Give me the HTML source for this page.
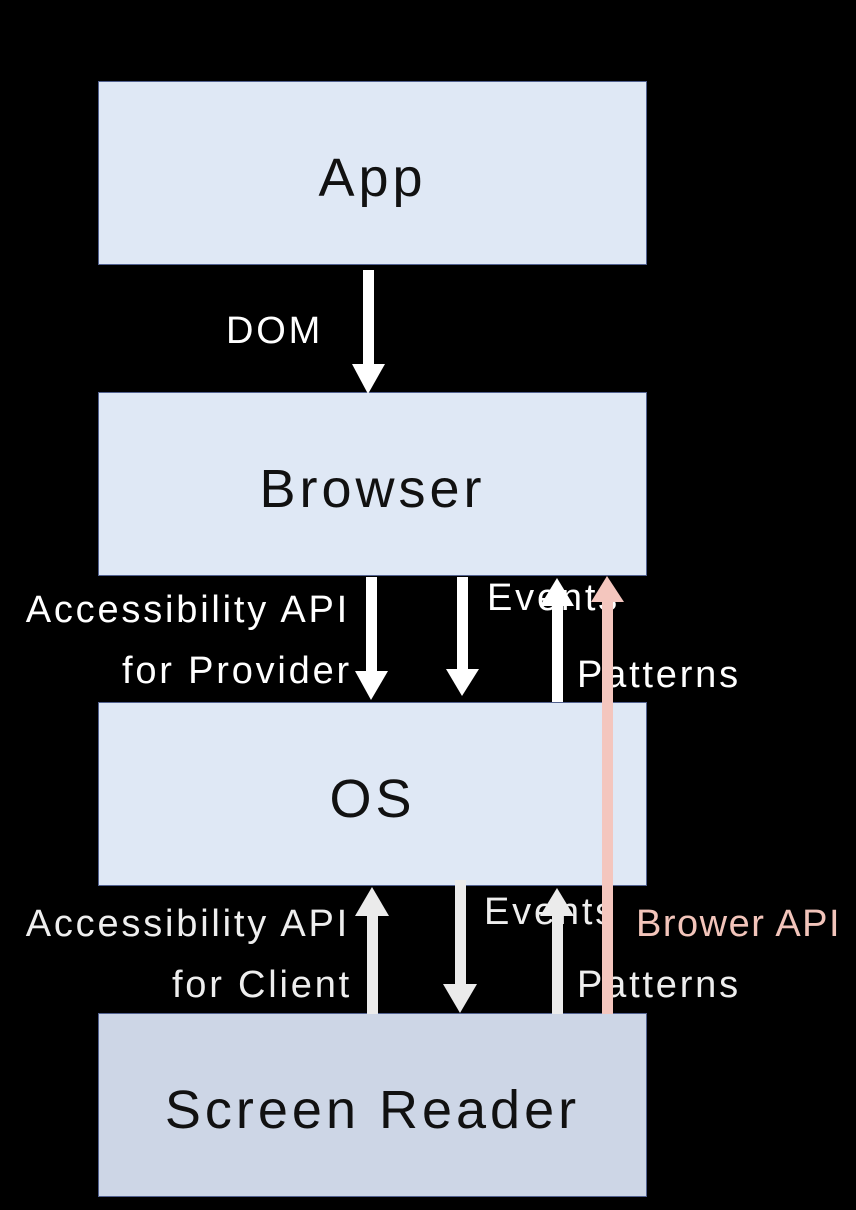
<!DOCTYPE html>
<html><head><meta charset="utf-8"><style>
body{margin:0;background:#000;width:856px;height:1210px;overflow:hidden;position:relative;font-family:"Liberation Sans","DejaVu Sans",sans-serif}
.box{position:absolute;left:98px;width:549px;height:184px;box-sizing:border-box;padding-top:10px;background:#dfe8f5;border:1px solid #52618f;display:flex;align-items:center;justify-content:center;font-size:54px;letter-spacing:4px;color:#111}
.t{position:absolute;color:#fff;font-size:38px;letter-spacing:2.8px;white-space:nowrap;line-height:1}
svg{position:absolute;left:0;top:0}
</style></head><body>
<div class="box" style="top:81px">App</div>
<div class="box" style="top:392px">Browser</div>
<div class="box" style="top:702px">OS</div>
<div class="box" style="top:1013px;background:#cdd6e6">Screen Reader</div>
<div class="t" style="left:226px;top:312px">DOM</div>
<div class="t" style="right:506px;top:591px">Accessibility API</div>
<div class="t" style="right:504px;top:652px">for Provider</div>
<div class="t" style="left:487px;top:579px">Events</div>
<div class="t" style="left:577px;top:656px">Patterns</div>
<div class="t" style="right:506px;top:905px;color:#eee">Accessibility API</div>
<div class="t" style="right:504px;top:966px;color:#eee">for Client</div>
<div class="t" style="left:484px;top:893px;color:#eee">Events</div>
<div class="t" style="left:577px;top:966px;color:#eee">Patterns</div>
<div class="t" style="left:636px;top:905px;color:#f2c4ba;letter-spacing:1.5px">Brower API</div>
<svg width="856" height="1210">
<g fill="#fff">
<rect x="363" y="270" width="11" height="96"/><polygon points="352,364 385,364 368,394"/>
<rect x="366" y="577" width="11" height="96"/><polygon points="355,671 388,671 371,700"/>
<rect x="457" y="577" width="11" height="94"/><polygon points="446,669 479,669 462,696"/>
<rect x="552" y="604" width="11" height="98"/><polygon points="540,606 574,606 557,578"/>
</g>
<g fill="#ebebeb">
<rect x="367" y="914" width="11" height="100"/><polygon points="355,916 389,916 372,887"/>
<rect x="455" y="880" width="11" height="106"/><polygon points="443,984 477,984 460,1013"/>
<rect x="552" y="914" width="11" height="100"/><polygon points="540,916 574,916 557,888"/>
</g>
<g fill="#f4c6be">
<rect x="602" y="600" width="11" height="414"/><polygon points="591,602 624,602 607,576"/>
</g>
</svg>
</body></html>
